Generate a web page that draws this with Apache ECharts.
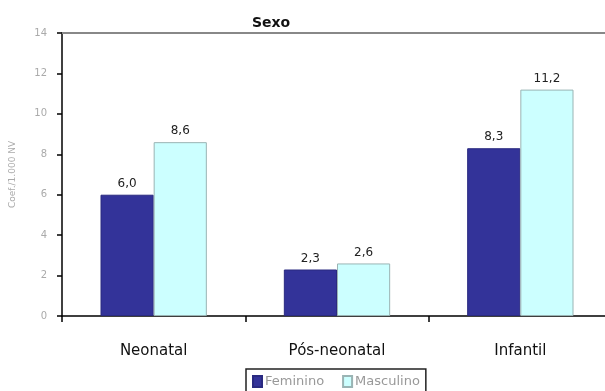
<!DOCTYPE html>
<html>
<head>
<meta charset="utf-8">
<script src="https://cdn.jsdelivr.net/npm/echarts@6/dist/echarts.min.js"></script>
<style>
  html, body { margin: 0; padding: 0; background: #fff; overflow: hidden; }
  /* the plot runs slightly past the right edge of the window */
  #chart { width: 612px; height: 391px; }
</style>
</head>
<body>
<div id="chart"></div>
<script>
// Coeficientes de mortalidade por sexo
const categories = ['Neonatal', 'Pós-neonatal', 'Infantil'];
const feminino = [6.0, 2.3, 8.3];
const masculino = [8.6, 2.6, 11.2];
const yTicks = [0, 2, 4, 6, 8, 10, 12, 14];

const fmt = v => v.toFixed(1).replace('.', ',');

const chart = echarts.init(document.getElementById('chart'), null, { renderer: 'canvas' });

const labelStyle = {
  show: true,
  position: 'top',
  distance: 5,
  color: '#222',
  fontFamily: 'DejaVu Sans',
  fontSize: 12,
  formatter: p => fmt(p.value)
};

chart.setOption({
  animation: false,
  backgroundColor: '#fff',
  title: {
    text: 'Sexo',
    left: 266,
    textAlign: 'center',
    top: 11,
    textStyle: { fontFamily: 'DejaVu Sans', fontSize: 14, fontWeight: 'bold', color: '#111' }
  },
  grid: { left: 62, top: 33, right: 0, bottom: 75, containLabel: false },
  legend: {
    bottom: -6,
    left: 246,
    itemWidth: 9,
    itemHeight: 11,
    itemGap: 18,
    padding: [6, 6, 9, 6],
    borderColor: '#222',
    borderWidth: 1.5,
    borderRadius: 0,
    icon: 'rect',
    textStyle: { fontFamily: 'DejaVu Sans', fontSize: 13, color: '#999', padding: [0, 0, 0, -2] },
    data: ['Feminino', 'Masculino']
  },
  xAxis: [{
    type: 'category',
    data: categories,
    axisLine: { lineStyle: { color: '#000', width: 1.5 } },
    axisTick: { show: true, inside: false, length: 6, lineStyle: { color: '#000', width: 1.5 } },
    axisLabel: { margin: 28, color: '#111', fontFamily: 'DejaVu Sans', fontSize: 15 },
    splitLine: { show: false }
  }, {
    type: 'category',
    data: categories,
    position: 'top',
    axisLine: { show: true, lineStyle: { color: '#888', width: 2 } },
    axisTick: { show: false },
    axisLabel: { show: false }
  }],
  yAxis: {
    type: 'value',
    min: yTicks[0],
    max: yTicks[yTicks.length - 1],
    interval: 2,
    name: 'Coef./1.000 NV',
    nameLocation: 'middle',
    nameGap: 45,
    nameRotate: 90,
    nameTextStyle: { fontFamily: 'DejaVu Sans', fontSize: 9, color: '#aaa' },
    axisLine: { show: true, lineStyle: { color: '#000', width: 1.5 } },
    axisTick: { show: true, inside: false, length: 5, lineStyle: { color: '#000', width: 1.5 } },
    axisLabel: { margin: 15, color: '#aaa', fontFamily: 'DejaVu Sans', fontSize: 10 },
    splitLine: { show: false }
  },
  series: [{
    name: 'Feminino',
    type: 'bar',
    data: feminino,
    barGap: '0%',
    barCategoryGap: '42%',
    itemStyle: { color: '#333399', borderColor: '#2a2a80', borderWidth: 1 },
    label: labelStyle
  }, {
    name: 'Masculino',
    type: 'bar',
    data: masculino,
    itemStyle: { color: '#ccffff', borderColor: '#9ab4b4', borderWidth: 1 },
    label: labelStyle
  }]
});
</script>
</body>
</html>
